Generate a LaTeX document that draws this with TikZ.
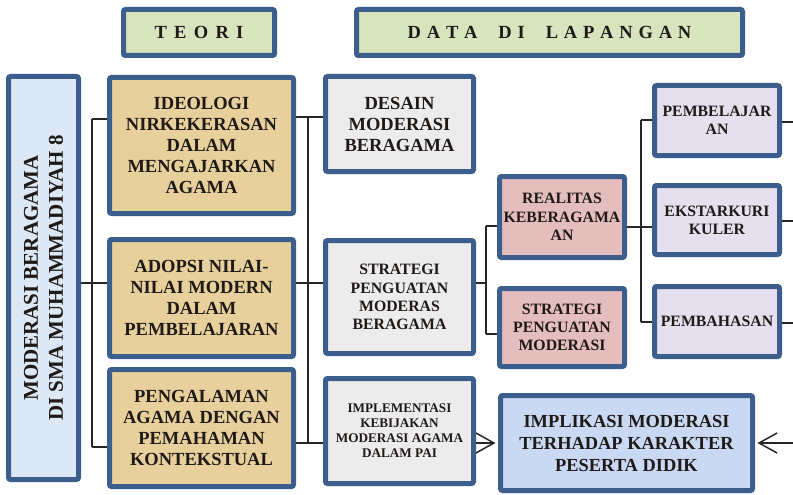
\documentclass[tikz,border=0pt]{standalone}
\usepackage{fontspec}
\setmainfont{Liberation Serif}
\usetikzlibrary{arrows.meta,backgrounds}
\definecolor{bord}{HTML}{3B5E8C}
\definecolor{txt}{HTML}{1F1A17}
\definecolor{hdr}{HTML}{D7E4BD}
\definecolor{mainc}{HTML}{DCE8F5}
\definecolor{tan}{HTML}{E8D09C}
\definecolor{grayc}{HTML}{ECECEC}
\definecolor{pinkc}{HTML}{E4BDBD}
\definecolor{lav}{HTML}{E5E0EE}
\definecolor{impc}{HTML}{C9D9F3}
\begin{document}
\begin{tikzpicture}[x=1pt,y=-1pt,
  box/.style={draw=bord,line width=5pt,rounded corners=2pt,align=center,inner sep=0pt,text=txt},
  fA/.style={font=\bfseries\fontsize{18.5}{21}\selectfont},
  fB/.style={font=\bfseries\fontsize{15.8}{18.3}\selectfont},
  fC/.style={font=\bfseries\fontsize{13.2}{15}\selectfont},
  fH/.style={font=\bfseries\fontsize{18.5}{22}\selectfont},
  conn/.style={line width=1.5pt,draw=black!85},
  arr/.style={conn,shorten >=2.5pt,-{Straight Barb[length=18pt,width=20pt,line width=1.5pt]}}]
\useasboundingbox (0,0) rectangle (793,495);

% headers
\node[box,fill=hdr,minimum width=151pt,minimum height=46pt,fH] (teori) at (199,32.5)
  {T\kern7.3pt E\kern7.3pt O\kern7.3pt R\kern7.3pt I};
\node[box,fill=hdr,minimum width=386pt,minimum height=46pt,fH] (data) at (549.5,32.5)
  {D\kern5.8pt A\kern5.8pt T\kern5.8pt A\kern21pt D\kern5.8pt I\kern21pt L\kern5.8pt A\kern5.8pt P\kern5.8pt A\kern5.8pt N\kern5.8pt G\kern5.8pt A\kern5.8pt N};

% main vertical box
\node[box,fill=mainc,minimum width=70pt,minimum height=403pt] (main) at (43.5,278) {};
\node[rotate=90,align=center,text=txt,font=\bfseries\fontsize{21}{25}\selectfont] (maintxt) at (main.center)
  {MODERASI BERAGAMA\\DI SMA MUHAMMADIYAH 8};

% theory column
\node[box,fill=tan,minimum width=184pt,minimum height=136pt,fA] (ideo) at (201.5,145.5)
  {IDEOLOGI\\NIRKEKERASAN\\DALAM\\MENGAJARKAN\\AGAMA};
\node[box,fill=tan,minimum width=184pt,minimum height=117pt,fA] (adopsi) at (201.5,298)
  {ADOPSI NILAI-\\NILAI MODERN\\DALAM\\PEMBELAJARAN};
\node[box,fill=tan,minimum width=184pt,minimum height=117pt,fA] (penga) at (201.5,428)
  {PENGALAMAN\\AGAMA DENGAN\\PEMAHAMAN\\KONTEKSTUAL};

% middle column
\node[box,fill=grayc,minimum width=148pt,minimum height=95pt,fA] (desain) at (399.5,124)
  {DESAIN\\MODERASI\\BERAGAMA};
\node[box,fill=grayc,minimum width=148pt,minimum height=113pt,fB] (strat) at (399.5,297)
  {STRATEGI\\PENGUATAN\\MODERAS\\BERAGAMA};
\node[box,fill=grayc,minimum width=148pt,minimum height=105pt,fC] (impl) at (399.5,431)
  {IMPLEMENTASI\\KEBIJAKAN\\MODERASI AGAMA\\DALAM PAI};

% pink column
\node[box,fill=pinkc,minimum width=125pt,minimum height=81pt,fB] (real) at (562,217)
  {REALITAS\\KEBERAGAMA\\AN};
\node[box,fill=pinkc,minimum width=125pt,minimum height=78pt,fB] (strat2) at (562,327.5)
  {STRATEGI\\PENGUATAN\\MODERASI};

% right column
\node[box,fill=lav,minimum width=125pt,minimum height=70pt,fB] (pembel) at (717,120.5)
  {PEMBELAJAR\\AN};
\node[box,fill=lav,minimum width=125pt,minimum height=69pt,fB] (ekstra) at (717,220)
  {EKSTARKURI\\KULER};
\node[box,fill=lav,minimum width=125pt,minimum height=70pt,fB] (pembah) at (717,321.5)
  {PEMBAHASAN};

% implication box
\node[box,fill=impc,minimum width=252pt,minimum height=95pt,font=\bfseries\fontsize{18.4}{22}\selectfont] (impli) at (626.5,443)
  {IMPLIKASI MODERASI\\TERHADAP KARAKTER\\PESERTA DIDIK};

% bus coordinates
\coordinate (lb1) at (92,119);
\coordinate (lb2) at (92,283);
\coordinate (lb3) at (92,447);
\coordinate (mb1) at (308,117);
\coordinate (mb2) at (308,283);
\coordinate (mb3) at (308,443);
\coordinate (sb1) at (486,226);
\coordinate (sb2) at (486,283);
\coordinate (sb3) at (486,334);
\coordinate (rb1) at (641,120);
\coordinate (rb2) at (641,227);
\coordinate (rb3) at (641,322);
\coordinate (e1) at (793,122);
\coordinate (e2) at (793,221);
\coordinate (e3) at (793,323);
\coordinate (e4) at (793,443);

\begin{scope}[on background layer]
  % left bus
  \draw[conn] (main.east |- lb2) -- (lb2);
  \draw[conn] (lb1) -- (lb3);
  \draw[conn] (lb1) -- (ideo.west |- lb1);
  \draw[conn] (lb2) -- (adopsi.west |- lb2);
  \draw[conn] (lb3) -- (penga.west |- lb3);
  % middle bus
  \draw[conn] (mb1) -- (mb3);
  \draw[conn] (ideo.east |- mb1) -- (desain.west |- mb1);
  \draw[conn] (adopsi.east |- mb2) -- (strat.west |- mb2);
  \draw[conn] (penga.east |- mb3) -- (impl.west |- mb3);
  % strategy bus
  \draw[conn] (strat.east |- sb2) -- (sb2);
  \draw[conn] (sb1) -- (sb3);
  \draw[conn] (sb1) -- (real.west |- sb1);
  \draw[conn] (sb3) -- (strat2.west |- sb3);
  % realitas bus
  \draw[conn] (real.east |- rb2) -- (ekstra.west |- rb2);
  \draw[conn] (rb1) -- (rb3);
  \draw[conn] (rb1) -- (pembel.west |- rb1);
  \draw[conn] (rb3) -- (pembah.west |- rb3);
  % lines leaving right edge
  \draw[conn] (pembel.east |- e1) -- (e1);
  \draw[conn] (ekstra.east |- e2) -- (e2);
  \draw[conn] (pembah.east |- e3) -- (e3);
  % arrows into implication
  \draw[arr] (impl.east |- impli.west) -- (impli.west);
  \draw[arr] (e4) -- (impli.east);
\end{scope}
\end{tikzpicture}
\end{document}
